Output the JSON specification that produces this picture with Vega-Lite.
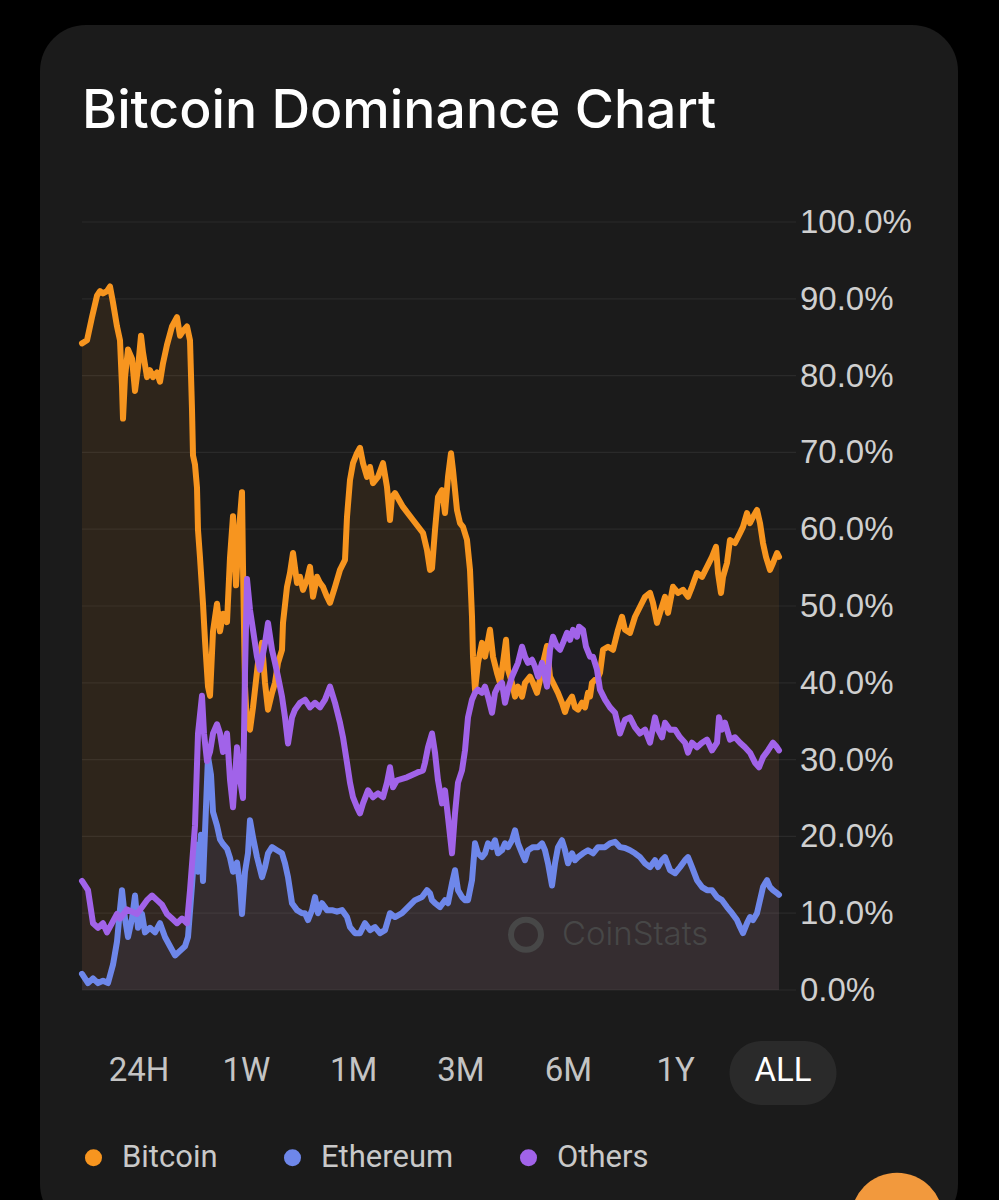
{
"$schema":"https://vega.github.io/schema/vega-lite/v6.json",
"width":918,"height":1205,
"autosize":{"type":"none"},
"padding":{"left":40,"top":25,"right":41,"bottom":-30},
"background":"#000000",
"view":{"fill":"#1b1b1b","cornerRadius":46,"stroke":null},
"title":{"text":"Bitcoin Dominance Chart","anchor":"start","frame":"group","font":"Inter","fontSize":53.5,"fontWeight":500,"color":"#ffffff","dx":42,"dy":53,"offset":-103,"baseline":"alphabetic"},
"config":{"view":{"stroke":null},"axis":{"domain":false,"ticks":false,"grid":false},"legend":{"symbolSize":290,"symbolType":"circle","symbolStrokeWidth":0}},
"datasets":{
"grid":[{"g":0,"lab":"0.0%"},{"g":10,"lab":"10.0%"},{"g":20,"lab":"20.0%"},{"g":30,"lab":"30.0%"},{"g":40,"lab":"40.0%"},{"g":50,"lab":"50.0%"},{"g":60,"lab":"60.0%"},{"g":70,"lab":"70.0%"},{"g":80,"lab":"80.0%"},{"g":90,"lab":"90.0%"},{"g":100,"lab":"100.0%"}],
"buttons":[{"b":"24H"},{"b":"1W"},{"b":"1M"},{"b":"3M"},{"b":"6M"},{"b":"1Y"},{"b":"ALL"}],
"series":[
{"s":"Bitcoin","t":0,"v":84.2},{"s":"Bitcoin","t":5,"v":84.6},{"s":"Bitcoin","t":10,"v":87.6},{"s":"Bitcoin","t":15,"v":90.4},{"s":"Bitcoin","t":18,"v":91},{"s":"Bitcoin","t":21,"v":90.7},{"s":"Bitcoin","t":25,"v":91},{"s":"Bitcoin","t":28,"v":91.6},{"s":"Bitcoin","t":31,"v":89.5},{"s":"Bitcoin","t":35,"v":86.4},{"s":"Bitcoin","t":38,"v":84.6},{"s":"Bitcoin","t":40,"v":78.6},{"s":"Bitcoin","t":41,"v":74.4},{"s":"Bitcoin","t":43,"v":79.8},{"s":"Bitcoin","t":46,"v":83.4},{"s":"Bitcoin","t":50,"v":82.2},{"s":"Bitcoin","t":53,"v":78},{"s":"Bitcoin","t":56,"v":81},{"s":"Bitcoin","t":59,"v":85.2},{"s":"Bitcoin","t":61,"v":83},{"s":"Bitcoin","t":65,"v":79.8},{"s":"Bitcoin","t":68,"v":80.7},{"s":"Bitcoin","t":71,"v":79.8},{"s":"Bitcoin","t":75,"v":80.4},{"s":"Bitcoin","t":78,"v":79.2},{"s":"Bitcoin","t":81,"v":81.6},{"s":"Bitcoin","t":85,"v":84},{"s":"Bitcoin","t":90,"v":86.4},{"s":"Bitcoin","t":95,"v":87.6},{"s":"Bitcoin","t":98,"v":85.2},{"s":"Bitcoin","t":101,"v":85.8},{"s":"Bitcoin","t":105,"v":86.4},{"s":"Bitcoin","t":108,"v":84.6},{"s":"Bitcoin","t":110,"v":75.6},{"s":"Bitcoin","t":111,"v":69.6},{"s":"Bitcoin","t":113,"v":68.4},{"s":"Bitcoin","t":115,"v":65.4},{"s":"Bitcoin","t":116,"v":59.9},{"s":"Bitcoin","t":118,"v":56.3},{"s":"Bitcoin","t":121,"v":50.3},{"s":"Bitcoin","t":123,"v":45.5},{"s":"Bitcoin","t":126,"v":39.5},{"s":"Bitcoin","t":128,"v":38.3},{"s":"Bitcoin","t":131,"v":46.7},{"s":"Bitcoin","t":135,"v":50.3},{"s":"Bitcoin","t":138,"v":46.7},{"s":"Bitcoin","t":141,"v":49},{"s":"Bitcoin","t":145,"v":47.9},{"s":"Bitcoin","t":148,"v":56.3},{"s":"Bitcoin","t":151,"v":61.7},{"s":"Bitcoin","t":154,"v":52.7},{"s":"Bitcoin","t":157,"v":59.9},{"s":"Bitcoin","t":160,"v":64.8},{"s":"Bitcoin","t":161,"v":55.1},{"s":"Bitcoin","t":163,"v":39.5},{"s":"Bitcoin","t":165,"v":34.6},{"s":"Bitcoin","t":168,"v":33.9},{"s":"Bitcoin","t":171,"v":36.8},{"s":"Bitcoin","t":176,"v":42.6},{"s":"Bitcoin","t":180,"v":45.2},{"s":"Bitcoin","t":183,"v":40},{"s":"Bitcoin","t":186,"v":36.5},{"s":"Bitcoin","t":190,"v":38.7},{"s":"Bitcoin","t":193,"v":40},{"s":"Bitcoin","t":196,"v":42.6},{"s":"Bitcoin","t":200,"v":44.3},{"s":"Bitcoin","t":201,"v":47.8},{"s":"Bitcoin","t":205,"v":52.5},{"s":"Bitcoin","t":208,"v":54.3},{"s":"Bitcoin","t":211,"v":56.9},{"s":"Bitcoin","t":215,"v":53},{"s":"Bitcoin","t":218,"v":53.8},{"s":"Bitcoin","t":221,"v":52.1},{"s":"Bitcoin","t":225,"v":53.4},{"s":"Bitcoin","t":228,"v":55.1},{"s":"Bitcoin","t":231,"v":51.2},{"s":"Bitcoin","t":235,"v":53.8},{"s":"Bitcoin","t":238,"v":53},{"s":"Bitcoin","t":241,"v":52.5},{"s":"Bitcoin","t":245,"v":51.2},{"s":"Bitcoin","t":248,"v":50.4},{"s":"Bitcoin","t":253,"v":52.5},{"s":"Bitcoin","t":258,"v":54.7},{"s":"Bitcoin","t":263,"v":56},{"s":"Bitcoin","t":265,"v":61.6},{"s":"Bitcoin","t":268,"v":66.4},{"s":"Bitcoin","t":271,"v":68.6},{"s":"Bitcoin","t":275,"v":69.9},{"s":"Bitcoin","t":278,"v":70.6},{"s":"Bitcoin","t":281,"v":68.6},{"s":"Bitcoin","t":285,"v":66.8},{"s":"Bitcoin","t":288,"v":68.1},{"s":"Bitcoin","t":291,"v":66},{"s":"Bitcoin","t":296,"v":66.8},{"s":"Bitcoin","t":301,"v":68.6},{"s":"Bitcoin","t":305,"v":65.5},{"s":"Bitcoin","t":308,"v":61.2},{"s":"Bitcoin","t":310,"v":64.2},{"s":"Bitcoin","t":313,"v":64.7},{"s":"Bitcoin","t":321,"v":62.9},{"s":"Bitcoin","t":331,"v":61.2},{"s":"Bitcoin","t":341,"v":59.5},{"s":"Bitcoin","t":345,"v":57.3},{"s":"Bitcoin","t":348,"v":54.7},{"s":"Bitcoin","t":350,"v":54.9},{"s":"Bitcoin","t":353,"v":59.9},{"s":"Bitcoin","t":356,"v":64.2},{"s":"Bitcoin","t":360,"v":65.1},{"s":"Bitcoin","t":363,"v":62.1},{"s":"Bitcoin","t":366,"v":66.8},{"s":"Bitcoin","t":369,"v":69.9},{"s":"Bitcoin","t":371,"v":67.7},{"s":"Bitcoin","t":375,"v":62.5},{"s":"Bitcoin","t":378,"v":60.8},{"s":"Bitcoin","t":381,"v":60.3},{"s":"Bitcoin","t":385,"v":58.6},{"s":"Bitcoin","t":388,"v":54.7},{"s":"Bitcoin","t":390,"v":48.6},{"s":"Bitcoin","t":391,"v":43.4},{"s":"Bitcoin","t":393,"v":39.1},{"s":"Bitcoin","t":396,"v":42.6},{"s":"Bitcoin","t":400,"v":45.2},{"s":"Bitcoin","t":403,"v":43.4},{"s":"Bitcoin","t":408,"v":46.9},{"s":"Bitcoin","t":411,"v":43.4},{"s":"Bitcoin","t":415,"v":41.3},{"s":"Bitcoin","t":418,"v":40},{"s":"Bitcoin","t":421,"v":42.6},{"s":"Bitcoin","t":424,"v":45.6},{"s":"Bitcoin","t":426,"v":41.7},{"s":"Bitcoin","t":430,"v":40},{"s":"Bitcoin","t":433,"v":38.2},{"s":"Bitcoin","t":436,"v":39.5},{"s":"Bitcoin","t":440,"v":38.2},{"s":"Bitcoin","t":443,"v":40},{"s":"Bitcoin","t":448,"v":40.8},{"s":"Bitcoin","t":451,"v":40},{"s":"Bitcoin","t":455,"v":38.7},{"s":"Bitcoin","t":458,"v":40.4},{"s":"Bitcoin","t":461,"v":42.6},{"s":"Bitcoin","t":465,"v":44.8},{"s":"Bitcoin","t":468,"v":40.8},{"s":"Bitcoin","t":471,"v":40},{"s":"Bitcoin","t":476,"v":38.7},{"s":"Bitcoin","t":480,"v":37.4},{"s":"Bitcoin","t":483,"v":36.2},{"s":"Bitcoin","t":486,"v":37.4},{"s":"Bitcoin","t":490,"v":38.2},{"s":"Bitcoin","t":493,"v":36.8},{"s":"Bitcoin","t":496,"v":36.5},{"s":"Bitcoin","t":500,"v":37.4},{"s":"Bitcoin","t":503,"v":36.8},{"s":"Bitcoin","t":506,"v":38.7},{"s":"Bitcoin","t":508,"v":38.2},{"s":"Bitcoin","t":510,"v":40},{"s":"Bitcoin","t":513,"v":40.4},{"s":"Bitcoin","t":515,"v":40.4},{"s":"Bitcoin","t":518,"v":41.3},{"s":"Bitcoin","t":521,"v":44.3},{"s":"Bitcoin","t":526,"v":44.7},{"s":"Bitcoin","t":531,"v":44.3},{"s":"Bitcoin","t":536,"v":46.9},{"s":"Bitcoin","t":540,"v":48.6},{"s":"Bitcoin","t":543,"v":46.9},{"s":"Bitcoin","t":548,"v":46.5},{"s":"Bitcoin","t":553,"v":48.6},{"s":"Bitcoin","t":558,"v":49.9},{"s":"Bitcoin","t":563,"v":51.2},{"s":"Bitcoin","t":568,"v":51.7},{"s":"Bitcoin","t":571,"v":50.4},{"s":"Bitcoin","t":575,"v":47.8},{"s":"Bitcoin","t":578,"v":49.1},{"s":"Bitcoin","t":583,"v":51.2},{"s":"Bitcoin","t":586,"v":49.1},{"s":"Bitcoin","t":591,"v":52.5},{"s":"Bitcoin","t":596,"v":51.7},{"s":"Bitcoin","t":601,"v":52.1},{"s":"Bitcoin","t":606,"v":51.2},{"s":"Bitcoin","t":610,"v":52.5},{"s":"Bitcoin","t":615,"v":54.3},{"s":"Bitcoin","t":620,"v":53.8},{"s":"Bitcoin","t":625,"v":55.1},{"s":"Bitcoin","t":630,"v":56.4},{"s":"Bitcoin","t":634,"v":57.7},{"s":"Bitcoin","t":636,"v":54.3},{"s":"Bitcoin","t":639,"v":51.7},{"s":"Bitcoin","t":641,"v":53.8},{"s":"Bitcoin","t":645,"v":55.6},{"s":"Bitcoin","t":648,"v":58.6},{"s":"Bitcoin","t":653,"v":58.2},{"s":"Bitcoin","t":658,"v":59.5},{"s":"Bitcoin","t":661,"v":60.3},{"s":"Bitcoin","t":665,"v":62.1},{"s":"Bitcoin","t":668,"v":60.8},{"s":"Bitcoin","t":671,"v":61.6},{"s":"Bitcoin","t":675,"v":62.5},{"s":"Bitcoin","t":678,"v":60.8},{"s":"Bitcoin","t":681,"v":58.2},{"s":"Bitcoin","t":684,"v":56.4},{"s":"Bitcoin","t":688,"v":54.7},{"s":"Bitcoin","t":691,"v":55.6},{"s":"Bitcoin","t":695,"v":56.9},{"s":"Bitcoin","t":697,"v":56.4},
{"s":"Ethereum","t":0,"v":2.1},{"s":"Ethereum","t":6,"v":0.9},{"s":"Ethereum","t":11,"v":1.5},{"s":"Ethereum","t":16,"v":0.9},{"s":"Ethereum","t":21,"v":1.2},{"s":"Ethereum","t":26,"v":0.9},{"s":"Ethereum","t":31,"v":3.3},{"s":"Ethereum","t":35,"v":6.3},{"s":"Ethereum","t":38,"v":10.5},{"s":"Ethereum","t":40,"v":13},{"s":"Ethereum","t":43,"v":9.3},{"s":"Ethereum","t":46,"v":6.9},{"s":"Ethereum","t":50,"v":9.3},{"s":"Ethereum","t":53,"v":12.3},{"s":"Ethereum","t":56,"v":8.1},{"s":"Ethereum","t":60,"v":9.9},{"s":"Ethereum","t":63,"v":7.5},{"s":"Ethereum","t":68,"v":8.1},{"s":"Ethereum","t":73,"v":7.5},{"s":"Ethereum","t":78,"v":8.7},{"s":"Ethereum","t":83,"v":6.9},{"s":"Ethereum","t":88,"v":5.7},{"s":"Ethereum","t":93,"v":4.5},{"s":"Ethereum","t":98,"v":5.1},{"s":"Ethereum","t":103,"v":5.7},{"s":"Ethereum","t":106,"v":6.9},{"s":"Ethereum","t":110,"v":13.6},{"s":"Ethereum","t":113,"v":19},{"s":"Ethereum","t":116,"v":15.4},{"s":"Ethereum","t":119,"v":20.2},{"s":"Ethereum","t":121,"v":14.2},{"s":"Ethereum","t":124,"v":23.8},{"s":"Ethereum","t":126,"v":30.4},{"s":"Ethereum","t":129,"v":28},{"s":"Ethereum","t":131,"v":23.2},{"s":"Ethereum","t":135,"v":21.4},{"s":"Ethereum","t":138,"v":19.6},{"s":"Ethereum","t":141,"v":19},{"s":"Ethereum","t":145,"v":18.4},{"s":"Ethereum","t":148,"v":17.2},{"s":"Ethereum","t":151,"v":15.4},{"s":"Ethereum","t":155,"v":16.6},{"s":"Ethereum","t":158,"v":13.6},{"s":"Ethereum","t":160,"v":9.9},{"s":"Ethereum","t":163,"v":15.4},{"s":"Ethereum","t":166,"v":17.8},{"s":"Ethereum","t":168,"v":22.1},{"s":"Ethereum","t":171,"v":19.9},{"s":"Ethereum","t":175,"v":17.3},{"s":"Ethereum","t":180,"v":14.7},{"s":"Ethereum","t":183,"v":16},{"s":"Ethereum","t":186,"v":17.8},{"s":"Ethereum","t":190,"v":18.6},{"s":"Ethereum","t":195,"v":18.2},{"s":"Ethereum","t":200,"v":17.8},{"s":"Ethereum","t":203,"v":16.5},{"s":"Ethereum","t":206,"v":14.7},{"s":"Ethereum","t":210,"v":11.3},{"s":"Ethereum","t":215,"v":10.4},{"s":"Ethereum","t":220,"v":10},{"s":"Ethereum","t":223,"v":10},{"s":"Ethereum","t":226,"v":9.1},{"s":"Ethereum","t":230,"v":10.4},{"s":"Ethereum","t":233,"v":12.1},{"s":"Ethereum","t":236,"v":10},{"s":"Ethereum","t":240,"v":11.3},{"s":"Ethereum","t":245,"v":10.4},{"s":"Ethereum","t":250,"v":10.4},{"s":"Ethereum","t":255,"v":10.2},{"s":"Ethereum","t":260,"v":10.4},{"s":"Ethereum","t":265,"v":9.5},{"s":"Ethereum","t":268,"v":8.2},{"s":"Ethereum","t":273,"v":7.4},{"s":"Ethereum","t":278,"v":7.4},{"s":"Ethereum","t":283,"v":8.7},{"s":"Ethereum","t":288,"v":7.8},{"s":"Ethereum","t":293,"v":8.2},{"s":"Ethereum","t":298,"v":7.4},{"s":"Ethereum","t":303,"v":7.8},{"s":"Ethereum","t":308,"v":10},{"s":"Ethereum","t":313,"v":9.5},{"s":"Ethereum","t":320,"v":10},{"s":"Ethereum","t":326,"v":10.8},{"s":"Ethereum","t":333,"v":11.7},{"s":"Ethereum","t":340,"v":12.1},{"s":"Ethereum","t":345,"v":13},{"s":"Ethereum","t":348,"v":12.6},{"s":"Ethereum","t":350,"v":11.7},{"s":"Ethereum","t":353,"v":11.3},{"s":"Ethereum","t":358,"v":10.8},{"s":"Ethereum","t":363,"v":11.7},{"s":"Ethereum","t":366,"v":11.3},{"s":"Ethereum","t":370,"v":13.9},{"s":"Ethereum","t":373,"v":15.6},{"s":"Ethereum","t":376,"v":13},{"s":"Ethereum","t":380,"v":12.1},{"s":"Ethereum","t":383,"v":11.7},{"s":"Ethereum","t":386,"v":11.7},{"s":"Ethereum","t":390,"v":14.3},{"s":"Ethereum","t":393,"v":19.1},{"s":"Ethereum","t":396,"v":17.8},{"s":"Ethereum","t":400,"v":17.3},{"s":"Ethereum","t":403,"v":17.8},{"s":"Ethereum","t":406,"v":19.1},{"s":"Ethereum","t":410,"v":18.6},{"s":"Ethereum","t":413,"v":19.5},{"s":"Ethereum","t":416,"v":17.8},{"s":"Ethereum","t":420,"v":18.2},{"s":"Ethereum","t":423,"v":19.1},{"s":"Ethereum","t":426,"v":18.6},{"s":"Ethereum","t":430,"v":19.5},{"s":"Ethereum","t":433,"v":20.8},{"s":"Ethereum","t":436,"v":19.1},{"s":"Ethereum","t":440,"v":17.8},{"s":"Ethereum","t":443,"v":16.9},{"s":"Ethereum","t":446,"v":18.2},{"s":"Ethereum","t":451,"v":18.6},{"s":"Ethereum","t":456,"v":18.6},{"s":"Ethereum","t":460,"v":19.1},{"s":"Ethereum","t":463,"v":18.2},{"s":"Ethereum","t":466,"v":16.5},{"s":"Ethereum","t":470,"v":13.6},{"s":"Ethereum","t":473,"v":16.5},{"s":"Ethereum","t":476,"v":18.6},{"s":"Ethereum","t":480,"v":19.5},{"s":"Ethereum","t":483,"v":18.2},{"s":"Ethereum","t":486,"v":16.5},{"s":"Ethereum","t":490,"v":17.8},{"s":"Ethereum","t":493,"v":16.9},{"s":"Ethereum","t":496,"v":17.3},{"s":"Ethereum","t":501,"v":17.8},{"s":"Ethereum","t":506,"v":18.2},{"s":"Ethereum","t":511,"v":17.8},{"s":"Ethereum","t":516,"v":18.6},{"s":"Ethereum","t":523,"v":18.6},{"s":"Ethereum","t":528,"v":19.1},{"s":"Ethereum","t":533,"v":19.3},{"s":"Ethereum","t":538,"v":18.6},{"s":"Ethereum","t":543,"v":18.5},{"s":"Ethereum","t":548,"v":18.2},{"s":"Ethereum","t":553,"v":17.8},{"s":"Ethereum","t":558,"v":17.3},{"s":"Ethereum","t":563,"v":16.5},{"s":"Ethereum","t":568,"v":16},{"s":"Ethereum","t":573,"v":16.9},{"s":"Ethereum","t":576,"v":16},{"s":"Ethereum","t":580,"v":16.9},{"s":"Ethereum","t":583,"v":17.3},{"s":"Ethereum","t":588,"v":15.6},{"s":"Ethereum","t":593,"v":15.2},{"s":"Ethereum","t":598,"v":16},{"s":"Ethereum","t":603,"v":16.9},{"s":"Ethereum","t":606,"v":17.3},{"s":"Ethereum","t":610,"v":16},{"s":"Ethereum","t":615,"v":14.3},{"s":"Ethereum","t":620,"v":13.4},{"s":"Ethereum","t":625,"v":13},{"s":"Ethereum","t":630,"v":13},{"s":"Ethereum","t":635,"v":12.1},{"s":"Ethereum","t":640,"v":11.7},{"s":"Ethereum","t":645,"v":10.8},{"s":"Ethereum","t":650,"v":10},{"s":"Ethereum","t":655,"v":9.1},{"s":"Ethereum","t":658,"v":8.2},{"s":"Ethereum","t":661,"v":7.4},{"s":"Ethereum","t":665,"v":8.7},{"s":"Ethereum","t":668,"v":9.5},{"s":"Ethereum","t":671,"v":9.1},{"s":"Ethereum","t":675,"v":10},{"s":"Ethereum","t":678,"v":11.7},{"s":"Ethereum","t":681,"v":13.4},{"s":"Ethereum","t":685,"v":14.3},{"s":"Ethereum","t":688,"v":13.4},{"s":"Ethereum","t":691,"v":13},{"s":"Ethereum","t":695,"v":12.6},{"s":"Ethereum","t":697,"v":12.4},
{"s":"Others","t":0,"v":14.2},{"s":"Others","t":6,"v":13},{"s":"Others","t":11,"v":8.7},{"s":"Others","t":16,"v":8.1},{"s":"Others","t":21,"v":8.7},{"s":"Others","t":25,"v":7.5},{"s":"Others","t":30,"v":8.7},{"s":"Others","t":35,"v":9.9},{"s":"Others","t":38,"v":9.3},{"s":"Others","t":45,"v":10.5},{"s":"Others","t":55,"v":9.9},{"s":"Others","t":65,"v":11.7},{"s":"Others","t":70,"v":12.3},{"s":"Others","t":75,"v":11.7},{"s":"Others","t":80,"v":11.1},{"s":"Others","t":85,"v":9.9},{"s":"Others","t":90,"v":9.3},{"s":"Others","t":95,"v":8.7},{"s":"Others","t":100,"v":9.3},{"s":"Others","t":105,"v":8.7},{"s":"Others","t":108,"v":13},{"s":"Others","t":113,"v":21.4},{"s":"Others","t":116,"v":33.4},{"s":"Others","t":120,"v":38.3},{"s":"Others","t":122,"v":33.4},{"s":"Others","t":125,"v":29.8},{"s":"Others","t":128,"v":31},{"s":"Others","t":131,"v":33.4},{"s":"Others","t":135,"v":34.6},{"s":"Others","t":138,"v":33.4},{"s":"Others","t":141,"v":31},{"s":"Others","t":145,"v":33.4},{"s":"Others","t":148,"v":27.4},{"s":"Others","t":151,"v":23.8},{"s":"Others","t":155,"v":31.6},{"s":"Others","t":158,"v":27.4},{"s":"Others","t":161,"v":25},{"s":"Others","t":163,"v":41.3},{"s":"Others","t":165,"v":53.5},{"s":"Others","t":168,"v":49.5},{"s":"Others","t":171,"v":46.9},{"s":"Others","t":175,"v":43.4},{"s":"Others","t":178,"v":41.7},{"s":"Others","t":183,"v":45.2},{"s":"Others","t":186,"v":47.8},{"s":"Others","t":190,"v":44.3},{"s":"Others","t":193,"v":42.6},{"s":"Others","t":196,"v":40.8},{"s":"Others","t":200,"v":38.2},{"s":"Others","t":203,"v":35.5},{"s":"Others","t":206,"v":32.1},{"s":"Others","t":210,"v":35.5},{"s":"Others","t":213,"v":36.5},{"s":"Others","t":218,"v":37.4},{"s":"Others","t":223,"v":37.8},{"s":"Others","t":228,"v":36.8},{"s":"Others","t":233,"v":37.4},{"s":"Others","t":238,"v":36.8},{"s":"Others","t":243,"v":37.8},{"s":"Others","t":248,"v":39.5},{"s":"Others","t":253,"v":37.4},{"s":"Others","t":258,"v":34.8},{"s":"Others","t":261,"v":32.9},{"s":"Others","t":265,"v":29.6},{"s":"Others","t":268,"v":27},{"s":"Others","t":271,"v":25.1},{"s":"Others","t":275,"v":23.8},{"s":"Others","t":278,"v":23},{"s":"Others","t":281,"v":24.3},{"s":"Others","t":286,"v":26},{"s":"Others","t":291,"v":25.1},{"s":"Others","t":296,"v":25.6},{"s":"Others","t":301,"v":25.1},{"s":"Others","t":305,"v":27},{"s":"Others","t":308,"v":29},{"s":"Others","t":311,"v":26.4},{"s":"Others","t":315,"v":27.3},{"s":"Others","t":325,"v":27.7},{"s":"Others","t":335,"v":28.3},{"s":"Others","t":341,"v":28.6},{"s":"Others","t":343,"v":29.6},{"s":"Others","t":346,"v":31.6},{"s":"Others","t":350,"v":33.4},{"s":"Others","t":353,"v":30.9},{"s":"Others","t":356,"v":27.3},{"s":"Others","t":360,"v":24.3},{"s":"Others","t":363,"v":26},{"s":"Others","t":366,"v":22.5},{"s":"Others","t":370,"v":17.8},{"s":"Others","t":373,"v":23},{"s":"Others","t":376,"v":27},{"s":"Others","t":380,"v":28.6},{"s":"Others","t":383,"v":31.2},{"s":"Others","t":386,"v":35.5},{"s":"Others","t":390,"v":37.8},{"s":"Others","t":393,"v":38.7},{"s":"Others","t":396,"v":39.1},{"s":"Others","t":400,"v":38.7},{"s":"Others","t":403,"v":39.5},{"s":"Others","t":406,"v":38.2},{"s":"Others","t":410,"v":36.1},{"s":"Others","t":413,"v":38.7},{"s":"Others","t":416,"v":39.5},{"s":"Others","t":420,"v":40},{"s":"Others","t":423,"v":37.4},{"s":"Others","t":426,"v":39.1},{"s":"Others","t":430,"v":40.8},{"s":"Others","t":433,"v":41.7},{"s":"Others","t":436,"v":42.6},{"s":"Others","t":440,"v":44.7},{"s":"Others","t":443,"v":43.4},{"s":"Others","t":446,"v":42.6},{"s":"Others","t":450,"v":43},{"s":"Others","t":453,"v":42.1},{"s":"Others","t":456,"v":40.8},{"s":"Others","t":460,"v":42.6},{"s":"Others","t":465,"v":39.5},{"s":"Others","t":468,"v":44.3},{"s":"Others","t":471,"v":46},{"s":"Others","t":475,"v":44.7},{"s":"Others","t":478,"v":44.3},{"s":"Others","t":481,"v":45.2},{"s":"Others","t":485,"v":46.5},{"s":"Others","t":488,"v":45.6},{"s":"Others","t":491,"v":46.9},{"s":"Others","t":495,"v":46},{"s":"Others","t":497,"v":47.3},{"s":"Others","t":501,"v":46.9},{"s":"Others","t":504,"v":44.7},{"s":"Others","t":508,"v":43.4},{"s":"Others","t":511,"v":43.4},{"s":"Others","t":515,"v":41.7},{"s":"Others","t":518,"v":39.1},{"s":"Others","t":523,"v":37.8},{"s":"Others","t":528,"v":36.8},{"s":"Others","t":533,"v":36.1},{"s":"Others","t":538,"v":33.4},{"s":"Others","t":543,"v":35.2},{"s":"Others","t":548,"v":35.5},{"s":"Others","t":553,"v":34.2},{"s":"Others","t":558,"v":33.4},{"s":"Others","t":563,"v":33.9},{"s":"Others","t":568,"v":32.2},{"s":"Others","t":573,"v":35.5},{"s":"Others","t":576,"v":33.9},{"s":"Others","t":580,"v":32.9},{"s":"Others","t":583,"v":34.8},{"s":"Others","t":588,"v":33.9},{"s":"Others","t":593,"v":33.9},{"s":"Others","t":598,"v":32.9},{"s":"Others","t":603,"v":32.2},{"s":"Others","t":606,"v":30.9},{"s":"Others","t":610,"v":32.2},{"s":"Others","t":615,"v":31.6},{"s":"Others","t":620,"v":32.2},{"s":"Others","t":625,"v":32.6},{"s":"Others","t":630,"v":31.2},{"s":"Others","t":635,"v":32.2},{"s":"Others","t":637,"v":35.5},{"s":"Others","t":640,"v":33.9},{"s":"Others","t":643,"v":34.8},{"s":"Others","t":648,"v":32.6},{"s":"Others","t":653,"v":32.9},{"s":"Others","t":658,"v":32.2},{"s":"Others","t":663,"v":31.6},{"s":"Others","t":668,"v":30.9},{"s":"Others","t":673,"v":29.6},{"s":"Others","t":677,"v":29},{"s":"Others","t":681,"v":30.3},{"s":"Others","t":686,"v":31.2},{"s":"Others","t":691,"v":32.2},{"s":"Others","t":695,"v":31.6},{"s":"Others","t":697,"v":31.2}
]},
"resolve":{"scale":{"x":"independent"}},
"layer":[
{"layer":[
{"data":{"name":"grid"},"layer":[
 {"mark":{"type":"rule","color":"#2a2a2a","strokeWidth":1.2},
  "encoding":{"y":{"field":"g","type":"quantitative","scale":{"domain":[0,100],"range":[965,197],"nice":false,"zero":false},"axis":null},
   "x":{"datum":0,"type":"quantitative","scale":{"domain":[0,698],"range":[42,740],"nice":false,"zero":false},"axis":null},"x2":{"datum":714}}},
 {"mark":{"type":"text","font":"Liberation Sans","fontSize":33,"color":"#cfcfcf","align":"left","baseline":"middle","dy":1},
  "encoding":{"text":{"field":"lab"},"y":{"field":"g","type":"quantitative","scale":{"domain":[0,100],"range":[965,197],"nice":false,"zero":false},"axis":null},
   "x":{"datum":718,"type":"quantitative","scale":{"domain":[0,698],"range":[42,740],"nice":false,"zero":false},"axis":null}}}
]},
{"data":{"name":"series"},"mark":{"type":"area"},
 "encoding":{"x":{"field":"t","type":"quantitative","scale":{"domain":[0,698],"range":[42,740],"nice":false,"zero":false},"axis":null},
  "y":{"field":"v","type":"quantitative","stack":null,"scale":{"domain":[0,100],"range":[965,197],"nice":false,"zero":false},"axis":null},
  "y2":{"datum":0},
  "fillOpacity":{"field":"s","type":"nominal","scale":{"domain":["Bitcoin","Ethereum","Others"],"range":[0.09,0.04,0.07]},"legend":null},
  "fill":{"field":"s","type":"nominal","scale":{"domain":["Bitcoin","Ethereum","Others"],"range":["#f7951f","#6e87ea","#a163e9"]},
   "legend":{"orient":"none","legendX":38,"legendY":1117,"direction":"horizontal","title":null,"symbolType":"circle","symbolSize":290,"symbolOpacity":1,"symbolStrokeWidth":0,"labelFont":"Roboto","labelFontSize":31,"labelColor":"#c9c9c9","labelOffset":13,"columnPadding":59,"padding":0,"labelLimit":300,
    "encode":{"symbols":{"enter":{"size":{"value":290}},"update":{"fillOpacity":{"value":1},"opacity":{"value":1},"size":{"value":290}}}}}}}},
{"data":{"values":[{"w":"CoinStats"}]},"layer":[
 {"mark":{"type":"text","font":"Inter","fontSize":33,"fontWeight":300,"color":"#474747","align":"left","baseline":"middle"},
  "encoding":{"text":{"field":"w"},"x":{"datum":480,"type":"quantitative","scale":{"domain":[0,698],"range":[42,740],"nice":false,"zero":false},"axis":null},"y":{"datum":7.2,"type":"quantitative","scale":{"domain":[0,100],"range":[965,197],"nice":false,"zero":false},"axis":null}}},
 {"mark":{"type":"point","shape":"circle","filled":false,"size":900,"strokeWidth":6,"color":"#474747","opacity":1},
  "encoding":{"x":{"datum":444,"type":"quantitative","scale":{"domain":[0,698],"range":[42,740],"nice":false,"zero":false},"axis":null},"y":{"datum":7.2,"type":"quantitative","scale":{"domain":[0,100],"range":[965,197],"nice":false,"zero":false},"axis":null}}}
]},
{"data":{"name":"series"},"mark":{"type":"line","strokeWidth":6,"strokeJoin":"round","strokeCap":"round"},
 "encoding":{"x":{"field":"t","type":"quantitative","scale":{"domain":[0,698],"range":[42,740],"nice":false,"zero":false},"axis":null},
  "y":{"field":"v","type":"quantitative","scale":{"domain":[0,100],"range":[965,197],"nice":false,"zero":false},"axis":null},
  "stroke":{"field":"s","type":"nominal","scale":{"domain":["Bitcoin","Ethereum","Others"],"range":["#f7951f","#6e87ea","#a163e9"]},"legend":null}}},
{"data":{"values":[{"k":"fab"}]},"mark":{"type":"point","shape":"circle","filled":true,"size":8500,"color":"#f2993d","opacity":1},
 "encoding":{"x":{"datum":815,"type":"quantitative","scale":{"domain":[0,698],"range":[42,740],"nice":false,"zero":false},"axis":null},"y":{"datum":-29.8,"type":"quantitative","scale":{"domain":[0,100],"range":[965,197],"nice":false,"zero":false},"axis":null}}}
]},
{"data":{"name":"buttons"},"layer":[
 {"transform":[{"filter":"datum.b === 'ALL'"}],"mark":{"type":"rect","width":107,"height":64,"cornerRadius":32,"color":"#2a2a2a"},
  "encoding":{"x":{"field":"b","type":"nominal","scale":{"type":"point","domain":["24H","1W","1M","3M","6M","1Y","ALL"],"range":[99,743],"padding":0},"axis":null},"y":{"datum":-10.8,"type":"quantitative","scale":{"domain":[0,100],"range":[965,197],"nice":false,"zero":false},"axis":null}}},
 {"mark":{"type":"text","font":"Roboto","fontSize":33,"align":"center","baseline":"middle"},
  "encoding":{"text":{"field":"b"},"x":{"field":"b","type":"nominal","scale":{"type":"point","domain":["24H","1W","1M","3M","6M","1Y","ALL"],"range":[99,743],"padding":0},"axis":null},"y":{"datum":-10.6,"type":"quantitative","scale":{"domain":[0,100],"range":[965,197],"nice":false,"zero":false},"axis":null},
   "color":{"condition":{"test":"datum.b === 'ALL'","value":"#ffffff"},"value":"#c4c4c4"}}}
]}
]
}
